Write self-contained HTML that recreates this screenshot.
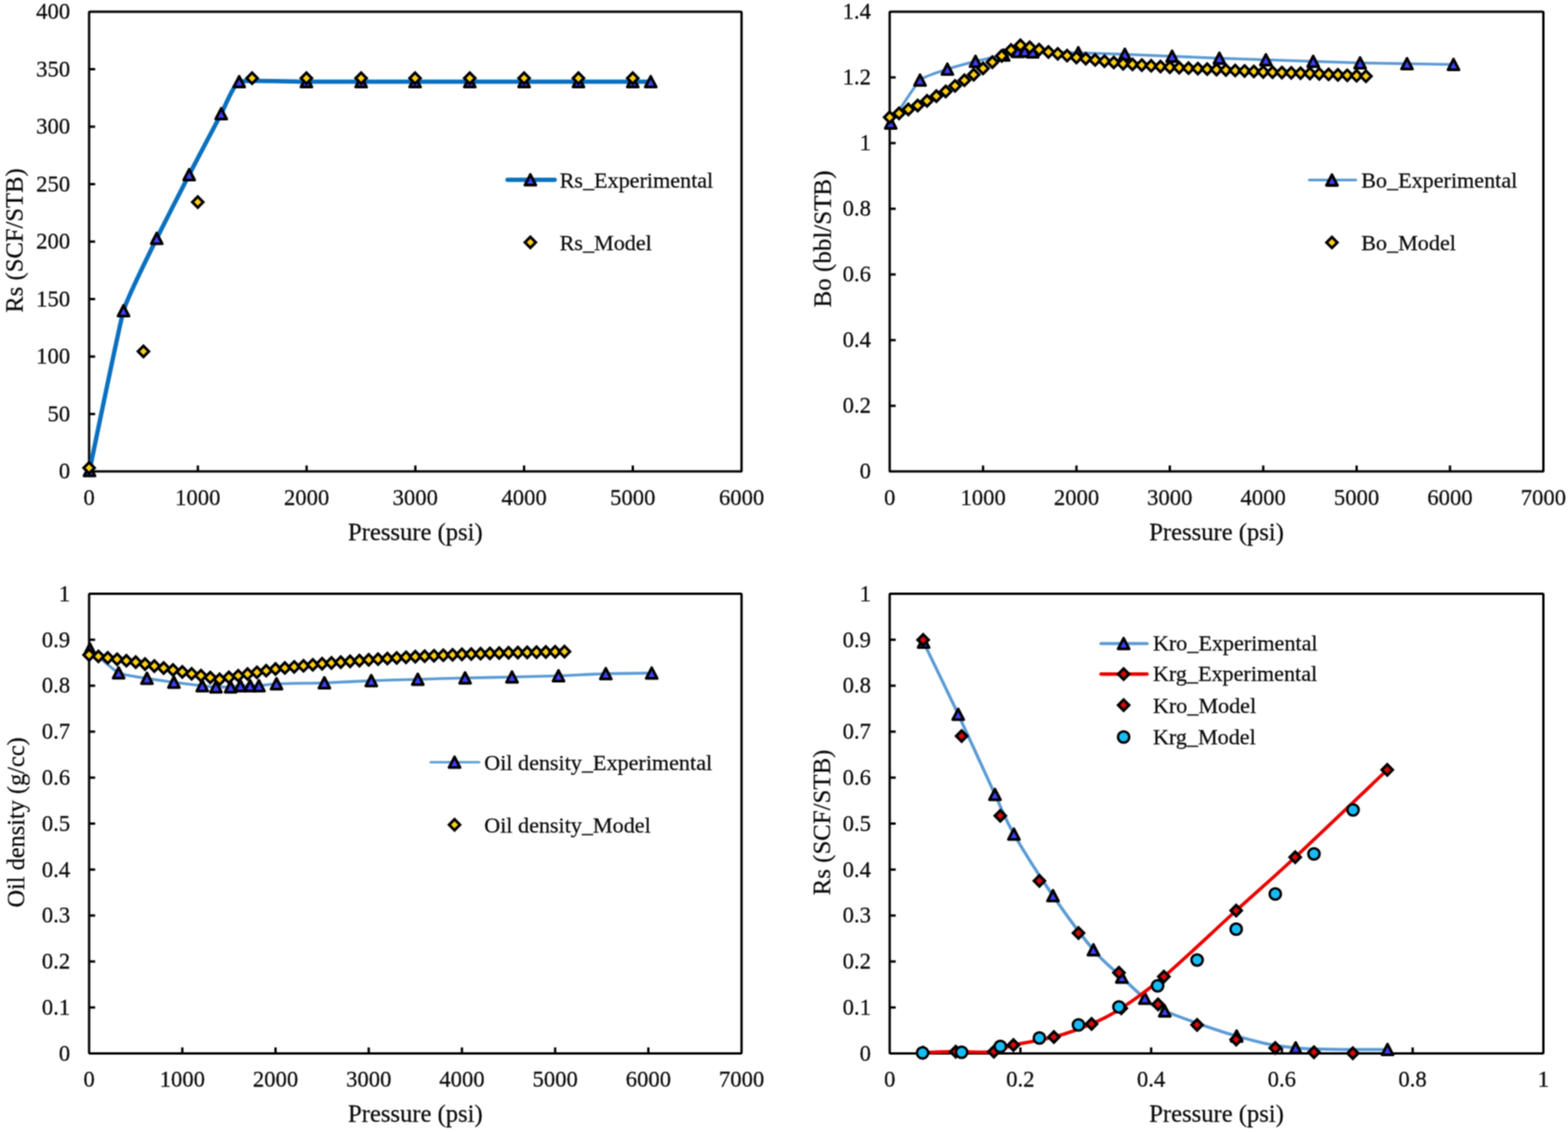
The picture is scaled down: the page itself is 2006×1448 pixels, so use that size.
<!DOCTYPE html>
<html lang="en">
<head>
<meta charset="utf-8">
<title>PVT and relative permeability: experimental vs model</title>
<style>
  html, body { margin: 0; padding: 0; background: #ffffff; }
  body { width: 2006px; height: 1448px; overflow: hidden; }
  svg { display: block; }
  .figure { width: 2006px; height: 1448px; }
  svg text { font-family: "Liberation Serif", "DejaVu Serif", serif; fill: #0a0a0a; stroke: #0a0a0a; stroke-width: 0.3px; }
</style>
</head>
<body>
<div class="figure">
<svg width="2006" height="1448" viewBox="0 0 2006 1448">
<defs>
<filter id="soft" x="0" y="0" width="2006" height="1448" filterUnits="userSpaceOnUse" color-interpolation-filters="sRGB">
<feConvolveMatrix order="3" kernelMatrix="1 2 1 2 4 2 1 2 1" divisor="16" edgeMode="duplicate" preserveAlpha="true"/>
</filter>
</defs>
<g filter="url(#soft)">
<rect x="0" y="0" width="2006" height="1448" fill="#ffffff"/>
<g id="chart-rs">
<rect x="114" y="15" width="834.7" height="588.1" fill="#fff" stroke="#000" stroke-width="3" stroke-linejoin="round" rx="1.2"/>
<text x="114" y="646" font-size="29" text-anchor="middle">0</text>
<line x1="253.12" y1="603.1" x2="253.12" y2="595.4" stroke="#000" stroke-width="3"/>
<text x="253.12" y="646" font-size="29" text-anchor="middle">1000</text>
<line x1="392.23" y1="603.1" x2="392.23" y2="595.4" stroke="#000" stroke-width="3"/>
<text x="392.23" y="646" font-size="29" text-anchor="middle">2000</text>
<line x1="531.35" y1="603.1" x2="531.35" y2="595.4" stroke="#000" stroke-width="3"/>
<text x="531.35" y="646" font-size="29" text-anchor="middle">3000</text>
<line x1="670.47" y1="603.1" x2="670.47" y2="595.4" stroke="#000" stroke-width="3"/>
<text x="670.47" y="646" font-size="29" text-anchor="middle">4000</text>
<line x1="809.58" y1="603.1" x2="809.58" y2="595.4" stroke="#000" stroke-width="3"/>
<text x="809.58" y="646" font-size="29" text-anchor="middle">5000</text>
<text x="948.7" y="646" font-size="29" text-anchor="middle">6000</text>
<text x="89.7" y="612.3" font-size="29" text-anchor="end">0</text>
<line x1="114" y1="529.59" x2="121.7" y2="529.59" stroke="#000" stroke-width="3"/>
<text x="89.7" y="538.79" font-size="29" text-anchor="end">50</text>
<line x1="114" y1="456.08" x2="121.7" y2="456.08" stroke="#000" stroke-width="3"/>
<text x="89.7" y="465.28" font-size="29" text-anchor="end">100</text>
<line x1="114" y1="382.56" x2="121.7" y2="382.56" stroke="#000" stroke-width="3"/>
<text x="89.7" y="391.76" font-size="29" text-anchor="end">150</text>
<line x1="114" y1="309.05" x2="121.7" y2="309.05" stroke="#000" stroke-width="3"/>
<text x="89.7" y="318.25" font-size="29" text-anchor="end">200</text>
<line x1="114" y1="235.54" x2="121.7" y2="235.54" stroke="#000" stroke-width="3"/>
<text x="89.7" y="244.74" font-size="29" text-anchor="end">250</text>
<line x1="114" y1="162.02" x2="121.7" y2="162.02" stroke="#000" stroke-width="3"/>
<text x="89.7" y="171.22" font-size="29" text-anchor="end">300</text>
<line x1="114" y1="88.51" x2="121.7" y2="88.51" stroke="#000" stroke-width="3"/>
<text x="89.7" y="97.71" font-size="29" text-anchor="end">350</text>
<text x="89.7" y="24.2" font-size="29" text-anchor="end">400</text>
<text x="531.35" y="691" font-size="31.5" text-anchor="middle">Pressure (psi)</text>
<text x="29.5" y="307.55" font-size="31.5" text-anchor="middle" transform="rotate(-90 29.5 307.55)">Rs (SCF/STB)</text>
<path d="M114.5,602 C117.11,589.73 152.84,415.32 158,397.5 C163.16,379.68 195.46,315.44 200.5,305 C205.54,294.56 237.05,233.07 242,223.5 C246.95,213.93 279.16,152.64 283,145.5 C286.84,138.36 299.46,106.96 306,104.5 C312.54,102.04 382.64,104.5 392,104.5 C401.36,104.5 453.66,104.5 462,104.5 C470.34,104.5 522.66,104.5 531,104.5 C539.34,104.5 592.63,104.5 601,104.5 C609.37,104.5 662.16,104.5 670.5,104.5 C678.84,104.5 731.66,104.5 740,104.5 C748.34,104.5 803.95,104.5 809.5,104.5 C815.05,104.5 831.12,104.5 832.5,104.5" fill="none" stroke="#0a70c0" stroke-width="5.6" stroke-linecap="round" stroke-linejoin="round"/>
<polygon points="114.5,595.2 121.5,608.8 107.5,608.8" fill="#4040ff" stroke="#000" stroke-width="3.6" stroke-linejoin="round"/>
<polygon points="158,390.7 165,404.3 151,404.3" fill="#4040ff" stroke="#000" stroke-width="3.6" stroke-linejoin="round"/>
<polygon points="200.5,298.2 207.5,311.8 193.5,311.8" fill="#4040ff" stroke="#000" stroke-width="3.6" stroke-linejoin="round"/>
<polygon points="242,216.7 249,230.3 235,230.3" fill="#4040ff" stroke="#000" stroke-width="3.6" stroke-linejoin="round"/>
<polygon points="283,138.7 290,152.3 276,152.3" fill="#4040ff" stroke="#000" stroke-width="3.6" stroke-linejoin="round"/>
<polygon points="306,97.7 313,111.3 299,111.3" fill="#4040ff" stroke="#000" stroke-width="3.6" stroke-linejoin="round"/>
<polygon points="392,97.7 399,111.3 385,111.3" fill="#4040ff" stroke="#000" stroke-width="3.6" stroke-linejoin="round"/>
<polygon points="462,97.7 469,111.3 455,111.3" fill="#4040ff" stroke="#000" stroke-width="3.6" stroke-linejoin="round"/>
<polygon points="531,97.7 538,111.3 524,111.3" fill="#4040ff" stroke="#000" stroke-width="3.6" stroke-linejoin="round"/>
<polygon points="601,97.7 608,111.3 594,111.3" fill="#4040ff" stroke="#000" stroke-width="3.6" stroke-linejoin="round"/>
<polygon points="670.5,97.7 677.5,111.3 663.5,111.3" fill="#4040ff" stroke="#000" stroke-width="3.6" stroke-linejoin="round"/>
<polygon points="740,97.7 747,111.3 733,111.3" fill="#4040ff" stroke="#000" stroke-width="3.6" stroke-linejoin="round"/>
<polygon points="809.5,97.7 816.5,111.3 802.5,111.3" fill="#4040ff" stroke="#000" stroke-width="3.6" stroke-linejoin="round"/>
<polygon points="832.5,97.7 839.5,111.3 825.5,111.3" fill="#4040ff" stroke="#000" stroke-width="3.6" stroke-linejoin="round"/>
<polygon points="114,591.55 120.95,598.5 114,605.45 107.05,598.5" fill="#ffd010" stroke="#000" stroke-width="3.5" stroke-linejoin="miter"/>
<polygon points="183.5,442.55 190.45,449.5 183.5,456.45 176.55,449.5" fill="#ffd010" stroke="#000" stroke-width="3.5" stroke-linejoin="miter"/>
<polygon points="253,251.55 259.95,258.5 253,265.45 246.05,258.5" fill="#ffd010" stroke="#000" stroke-width="3.5" stroke-linejoin="miter"/>
<polygon points="322.5,93.05 329.45,100 322.5,106.95 315.55,100" fill="#ffd010" stroke="#000" stroke-width="3.5" stroke-linejoin="miter"/>
<polygon points="392,93.05 398.95,100 392,106.95 385.05,100" fill="#ffd010" stroke="#000" stroke-width="3.5" stroke-linejoin="miter"/>
<polygon points="462,93.05 468.95,100 462,106.95 455.05,100" fill="#ffd010" stroke="#000" stroke-width="3.5" stroke-linejoin="miter"/>
<polygon points="531,93.05 537.95,100 531,106.95 524.05,100" fill="#ffd010" stroke="#000" stroke-width="3.5" stroke-linejoin="miter"/>
<polygon points="601,93.05 607.95,100 601,106.95 594.05,100" fill="#ffd010" stroke="#000" stroke-width="3.5" stroke-linejoin="miter"/>
<polygon points="670.5,93.05 677.45,100 670.5,106.95 663.55,100" fill="#ffd010" stroke="#000" stroke-width="3.5" stroke-linejoin="miter"/>
<polygon points="740,93.05 746.95,100 740,106.95 733.05,100" fill="#ffd010" stroke="#000" stroke-width="3.5" stroke-linejoin="miter"/>
<polygon points="809.5,93.05 816.45,100 809.5,106.95 802.55,100" fill="#ffd010" stroke="#000" stroke-width="3.5" stroke-linejoin="miter"/>
<line x1="649.3" y1="230" x2="709.6" y2="230" stroke="#0a70c0" stroke-width="5.6" stroke-linecap="round"/>
<polygon points="678.5,223.2 685.5,236.8 671.5,236.8" fill="#4040ff" stroke="#000" stroke-width="3.6" stroke-linejoin="round"/>
<text x="716" y="239.5" font-size="28.3" text-anchor="start">Rs_Experimental</text>
<polygon points="678.5,303.05 685.45,310 678.5,316.95 671.55,310" fill="#ffd010" stroke="#000" stroke-width="3.5" stroke-linejoin="miter"/>
<text x="716" y="319.5" font-size="28.3" text-anchor="start">Rs_Model</text>
</g>
<g id="chart-bo">
<rect x="1138.2" y="15" width="836.3" height="588.1" fill="#fff" stroke="#000" stroke-width="3" stroke-linejoin="round" rx="1.2"/>
<text x="1138.2" y="646" font-size="29" text-anchor="middle">0</text>
<line x1="1257.67" y1="603.1" x2="1257.67" y2="595.4" stroke="#000" stroke-width="3"/>
<text x="1257.67" y="646" font-size="29" text-anchor="middle">1000</text>
<line x1="1377.14" y1="603.1" x2="1377.14" y2="595.4" stroke="#000" stroke-width="3"/>
<text x="1377.14" y="646" font-size="29" text-anchor="middle">2000</text>
<line x1="1496.61" y1="603.1" x2="1496.61" y2="595.4" stroke="#000" stroke-width="3"/>
<text x="1496.61" y="646" font-size="29" text-anchor="middle">3000</text>
<line x1="1616.09" y1="603.1" x2="1616.09" y2="595.4" stroke="#000" stroke-width="3"/>
<text x="1616.09" y="646" font-size="29" text-anchor="middle">4000</text>
<line x1="1735.56" y1="603.1" x2="1735.56" y2="595.4" stroke="#000" stroke-width="3"/>
<text x="1735.56" y="646" font-size="29" text-anchor="middle">5000</text>
<line x1="1855.03" y1="603.1" x2="1855.03" y2="595.4" stroke="#000" stroke-width="3"/>
<text x="1855.03" y="646" font-size="29" text-anchor="middle">6000</text>
<text x="1974.5" y="646" font-size="29" text-anchor="middle">7000</text>
<text x="1114.2" y="612.3" font-size="29" text-anchor="end">0</text>
<line x1="1138.2" y1="519.09" x2="1145.9" y2="519.09" stroke="#000" stroke-width="3"/>
<text x="1114.2" y="528.29" font-size="29" text-anchor="end">0.2</text>
<line x1="1138.2" y1="435.07" x2="1145.9" y2="435.07" stroke="#000" stroke-width="3"/>
<text x="1114.2" y="444.27" font-size="29" text-anchor="end">0.4</text>
<line x1="1138.2" y1="351.06" x2="1145.9" y2="351.06" stroke="#000" stroke-width="3"/>
<text x="1114.2" y="360.26" font-size="29" text-anchor="end">0.6</text>
<line x1="1138.2" y1="267.04" x2="1145.9" y2="267.04" stroke="#000" stroke-width="3"/>
<text x="1114.2" y="276.24" font-size="29" text-anchor="end">0.8</text>
<line x1="1138.2" y1="183.03" x2="1145.9" y2="183.03" stroke="#000" stroke-width="3"/>
<text x="1114.2" y="192.23" font-size="29" text-anchor="end">1</text>
<line x1="1138.2" y1="99.01" x2="1145.9" y2="99.01" stroke="#000" stroke-width="3"/>
<text x="1114.2" y="108.21" font-size="29" text-anchor="end">1.2</text>
<text x="1114.2" y="24.2" font-size="29" text-anchor="end">1.4</text>
<text x="1556.35" y="691" font-size="31.5" text-anchor="middle">Pressure (psi)</text>
<text x="1062.6" y="305.75" font-size="32" text-anchor="middle" transform="rotate(-90 1062.6 305.75)">Bo (bbl/STB)</text>
<path d="M1139.5,157.5 C1142.25,153.47 1171.68,107.56 1177,102.5 C1182.32,97.44 1206.79,90.26 1212,88.5 C1217.21,86.74 1242.72,79.82 1248,78.5 C1253.28,77.18 1280.04,71.42 1284,70.5 C1287.96,69.58 1300.02,66.37 1302,66 C1303.98,65.63 1309.61,65.46 1311,65.5 C1312.39,65.54 1315.98,66.35 1321,66.5 C1326.02,66.65 1370.85,67.28 1379.5,67.5 C1388.15,67.72 1430.2,69.17 1439,69.5 C1447.8,69.83 1490.63,71.63 1499.5,72 C1508.37,72.37 1551.2,74.17 1560,74.5 C1568.8,74.83 1610.7,76.21 1619.5,76.5 C1628.3,76.79 1671.16,78.21 1680,78.5 C1688.84,78.79 1731.2,80.28 1740,80.5 C1748.8,80.72 1791.24,81.35 1800,81.5 C1808.76,81.65 1855.14,82.43 1859.5,82.5" fill="none" stroke="#5b9bd5" stroke-width="3.6" stroke-linecap="round" stroke-linejoin="round"/>
<polygon points="1139.5,150.7 1146.5,164.3 1132.5,164.3" fill="#4040ff" stroke="#000" stroke-width="3.6" stroke-linejoin="round"/>
<polygon points="1177,95.7 1184,109.3 1170,109.3" fill="#4040ff" stroke="#000" stroke-width="3.6" stroke-linejoin="round"/>
<polygon points="1212,81.7 1219,95.3 1205,95.3" fill="#4040ff" stroke="#000" stroke-width="3.6" stroke-linejoin="round"/>
<polygon points="1248,71.7 1255,85.3 1241,85.3" fill="#4040ff" stroke="#000" stroke-width="3.6" stroke-linejoin="round"/>
<polygon points="1284,63.7 1291,77.3 1277,77.3" fill="#4040ff" stroke="#000" stroke-width="3.6" stroke-linejoin="round"/>
<polygon points="1302,59.2 1309,72.8 1295,72.8" fill="#4040ff" stroke="#000" stroke-width="3.6" stroke-linejoin="round"/>
<polygon points="1311,58.7 1318,72.3 1304,72.3" fill="#4040ff" stroke="#000" stroke-width="3.6" stroke-linejoin="round"/>
<polygon points="1321,59.7 1328,73.3 1314,73.3" fill="#4040ff" stroke="#000" stroke-width="3.6" stroke-linejoin="round"/>
<polygon points="1379.5,60.7 1386.5,74.3 1372.5,74.3" fill="#4040ff" stroke="#000" stroke-width="3.6" stroke-linejoin="round"/>
<polygon points="1439,62.7 1446,76.3 1432,76.3" fill="#4040ff" stroke="#000" stroke-width="3.6" stroke-linejoin="round"/>
<polygon points="1499.5,65.2 1506.5,78.8 1492.5,78.8" fill="#4040ff" stroke="#000" stroke-width="3.6" stroke-linejoin="round"/>
<polygon points="1560,67.7 1567,81.3 1553,81.3" fill="#4040ff" stroke="#000" stroke-width="3.6" stroke-linejoin="round"/>
<polygon points="1619.5,69.7 1626.5,83.3 1612.5,83.3" fill="#4040ff" stroke="#000" stroke-width="3.6" stroke-linejoin="round"/>
<polygon points="1680,71.7 1687,85.3 1673,85.3" fill="#4040ff" stroke="#000" stroke-width="3.6" stroke-linejoin="round"/>
<polygon points="1740,73.7 1747,87.3 1733,87.3" fill="#4040ff" stroke="#000" stroke-width="3.6" stroke-linejoin="round"/>
<polygon points="1800,74.7 1807,88.3 1793,88.3" fill="#4040ff" stroke="#000" stroke-width="3.6" stroke-linejoin="round"/>
<polygon points="1859.5,75.7 1866.5,89.3 1852.5,89.3" fill="#4040ff" stroke="#000" stroke-width="3.6" stroke-linejoin="round"/>
<polygon points="1138.2,143.05 1145.15,150 1138.2,156.95 1131.25,150" fill="#ffd010" stroke="#000" stroke-width="3.5" stroke-linejoin="miter"/>
<polygon points="1150.15,138.05 1157.1,145 1150.15,151.95 1143.2,145" fill="#ffd010" stroke="#000" stroke-width="3.5" stroke-linejoin="miter"/>
<polygon points="1162.09,133.05 1169.04,140 1162.09,146.95 1155.14,140" fill="#ffd010" stroke="#000" stroke-width="3.5" stroke-linejoin="miter"/>
<polygon points="1174.04,128.05 1180.99,135 1174.04,141.95 1167.09,135" fill="#ffd010" stroke="#000" stroke-width="3.5" stroke-linejoin="miter"/>
<polygon points="1185.99,122.05 1192.94,129 1185.99,135.95 1179.04,129" fill="#ffd010" stroke="#000" stroke-width="3.5" stroke-linejoin="miter"/>
<polygon points="1197.94,116.05 1204.89,123 1197.94,129.95 1190.99,123" fill="#ffd010" stroke="#000" stroke-width="3.5" stroke-linejoin="miter"/>
<polygon points="1209.88,110.05 1216.83,117 1209.88,123.95 1202.93,117" fill="#ffd010" stroke="#000" stroke-width="3.5" stroke-linejoin="miter"/>
<polygon points="1221.83,102.88 1228.78,109.83 1221.83,116.78 1214.88,109.83" fill="#ffd010" stroke="#000" stroke-width="3.5" stroke-linejoin="miter"/>
<polygon points="1233.78,95.72 1240.73,102.67 1233.78,109.62 1226.83,102.67" fill="#ffd010" stroke="#000" stroke-width="3.5" stroke-linejoin="miter"/>
<polygon points="1245.72,88.55 1252.67,95.5 1245.72,102.45 1238.77,95.5" fill="#ffd010" stroke="#000" stroke-width="3.5" stroke-linejoin="miter"/>
<polygon points="1257.67,80.55 1264.62,87.5 1257.67,94.45 1250.72,87.5" fill="#ffd010" stroke="#000" stroke-width="3.5" stroke-linejoin="miter"/>
<polygon points="1269.62,72.55 1276.57,79.5 1269.62,86.45 1262.67,79.5" fill="#ffd010" stroke="#000" stroke-width="3.5" stroke-linejoin="miter"/>
<polygon points="1281.57,64.55 1288.52,71.5 1281.57,78.45 1274.62,71.5" fill="#ffd010" stroke="#000" stroke-width="3.5" stroke-linejoin="miter"/>
<polygon points="1293.51,57.05 1300.46,64 1293.51,70.95 1286.56,64" fill="#ffd010" stroke="#000" stroke-width="3.5" stroke-linejoin="miter"/>
<polygon points="1305.46,51.05 1312.41,58 1305.46,64.95 1298.51,58" fill="#ffd010" stroke="#000" stroke-width="3.5" stroke-linejoin="miter"/>
<polygon points="1317.41,53.55 1324.36,60.5 1317.41,67.45 1310.46,60.5" fill="#ffd010" stroke="#000" stroke-width="3.5" stroke-linejoin="miter"/>
<polygon points="1329.35,56.55 1336.3,63.5 1329.35,70.45 1322.4,63.5" fill="#ffd010" stroke="#000" stroke-width="3.5" stroke-linejoin="miter"/>
<polygon points="1341.3,59.55 1348.25,66.5 1341.3,73.45 1334.35,66.5" fill="#ffd010" stroke="#000" stroke-width="3.5" stroke-linejoin="miter"/>
<polygon points="1353.25,61.88 1360.2,68.83 1353.25,75.78 1346.3,68.83" fill="#ffd010" stroke="#000" stroke-width="3.5" stroke-linejoin="miter"/>
<polygon points="1365.2,64.22 1372.15,71.17 1365.2,78.12 1358.25,71.17" fill="#ffd010" stroke="#000" stroke-width="3.5" stroke-linejoin="miter"/>
<polygon points="1377.14,66.55 1384.09,73.5 1377.14,80.45 1370.19,73.5" fill="#ffd010" stroke="#000" stroke-width="3.5" stroke-linejoin="miter"/>
<polygon points="1389.09,68.15 1396.04,75.1 1389.09,82.05 1382.14,75.1" fill="#ffd010" stroke="#000" stroke-width="3.5" stroke-linejoin="miter"/>
<polygon points="1401.04,69.75 1407.99,76.7 1401.04,83.65 1394.09,76.7" fill="#ffd010" stroke="#000" stroke-width="3.5" stroke-linejoin="miter"/>
<polygon points="1412.98,71.35 1419.93,78.3 1412.98,85.25 1406.03,78.3" fill="#ffd010" stroke="#000" stroke-width="3.5" stroke-linejoin="miter"/>
<polygon points="1424.93,72.95 1431.88,79.9 1424.93,86.85 1417.98,79.9" fill="#ffd010" stroke="#000" stroke-width="3.5" stroke-linejoin="miter"/>
<polygon points="1436.88,74.55 1443.83,81.5 1436.88,88.45 1429.93,81.5" fill="#ffd010" stroke="#000" stroke-width="3.5" stroke-linejoin="miter"/>
<polygon points="1448.83,75.45 1455.78,82.4 1448.83,89.35 1441.88,82.4" fill="#ffd010" stroke="#000" stroke-width="3.5" stroke-linejoin="miter"/>
<polygon points="1460.77,76.35 1467.72,83.3 1460.77,90.25 1453.82,83.3" fill="#ffd010" stroke="#000" stroke-width="3.5" stroke-linejoin="miter"/>
<polygon points="1472.72,77.25 1479.67,84.2 1472.72,91.15 1465.77,84.2" fill="#ffd010" stroke="#000" stroke-width="3.5" stroke-linejoin="miter"/>
<polygon points="1484.67,78.15 1491.62,85.1 1484.67,92.05 1477.72,85.1" fill="#ffd010" stroke="#000" stroke-width="3.5" stroke-linejoin="miter"/>
<polygon points="1496.61,79.05 1503.56,86 1496.61,92.95 1489.66,86" fill="#ffd010" stroke="#000" stroke-width="3.5" stroke-linejoin="miter"/>
<polygon points="1508.56,79.65 1515.51,86.6 1508.56,93.55 1501.61,86.6" fill="#ffd010" stroke="#000" stroke-width="3.5" stroke-linejoin="miter"/>
<polygon points="1520.51,80.25 1527.46,87.2 1520.51,94.15 1513.56,87.2" fill="#ffd010" stroke="#000" stroke-width="3.5" stroke-linejoin="miter"/>
<polygon points="1532.46,80.85 1539.41,87.8 1532.46,94.75 1525.51,87.8" fill="#ffd010" stroke="#000" stroke-width="3.5" stroke-linejoin="miter"/>
<polygon points="1544.4,81.45 1551.35,88.4 1544.4,95.35 1537.45,88.4" fill="#ffd010" stroke="#000" stroke-width="3.5" stroke-linejoin="miter"/>
<polygon points="1556.35,82.05 1563.3,89 1556.35,95.95 1549.4,89" fill="#ffd010" stroke="#000" stroke-width="3.5" stroke-linejoin="miter"/>
<polygon points="1568.3,82.65 1575.25,89.6 1568.3,96.55 1561.35,89.6" fill="#ffd010" stroke="#000" stroke-width="3.5" stroke-linejoin="miter"/>
<polygon points="1580.24,83.25 1587.19,90.2 1580.24,97.15 1573.29,90.2" fill="#ffd010" stroke="#000" stroke-width="3.5" stroke-linejoin="miter"/>
<polygon points="1592.19,83.85 1599.14,90.8 1592.19,97.75 1585.24,90.8" fill="#ffd010" stroke="#000" stroke-width="3.5" stroke-linejoin="miter"/>
<polygon points="1604.14,84.45 1611.09,91.4 1604.14,98.35 1597.19,91.4" fill="#ffd010" stroke="#000" stroke-width="3.5" stroke-linejoin="miter"/>
<polygon points="1616.09,85.05 1623.04,92 1616.09,98.95 1609.14,92" fill="#ffd010" stroke="#000" stroke-width="3.5" stroke-linejoin="miter"/>
<polygon points="1628.03,85.45 1634.98,92.4 1628.03,99.35 1621.08,92.4" fill="#ffd010" stroke="#000" stroke-width="3.5" stroke-linejoin="miter"/>
<polygon points="1639.98,85.85 1646.93,92.8 1639.98,99.75 1633.03,92.8" fill="#ffd010" stroke="#000" stroke-width="3.5" stroke-linejoin="miter"/>
<polygon points="1651.93,86.25 1658.88,93.2 1651.93,100.15 1644.98,93.2" fill="#ffd010" stroke="#000" stroke-width="3.5" stroke-linejoin="miter"/>
<polygon points="1663.87,86.65 1670.82,93.6 1663.87,100.55 1656.92,93.6" fill="#ffd010" stroke="#000" stroke-width="3.5" stroke-linejoin="miter"/>
<polygon points="1675.82,87.05 1682.77,94 1675.82,100.95 1668.87,94" fill="#ffd010" stroke="#000" stroke-width="3.5" stroke-linejoin="miter"/>
<polygon points="1687.77,87.63 1694.72,94.58 1687.77,101.53 1680.82,94.58" fill="#ffd010" stroke="#000" stroke-width="3.5" stroke-linejoin="miter"/>
<polygon points="1699.72,88.22 1706.67,95.17 1699.72,102.12 1692.77,95.17" fill="#ffd010" stroke="#000" stroke-width="3.5" stroke-linejoin="miter"/>
<polygon points="1711.66,88.8 1718.61,95.75 1711.66,102.7 1704.71,95.75" fill="#ffd010" stroke="#000" stroke-width="3.5" stroke-linejoin="miter"/>
<polygon points="1723.61,89.38 1730.56,96.33 1723.61,103.28 1716.66,96.33" fill="#ffd010" stroke="#000" stroke-width="3.5" stroke-linejoin="miter"/>
<polygon points="1735.56,89.97 1742.51,96.92 1735.56,103.87 1728.61,96.92" fill="#ffd010" stroke="#000" stroke-width="3.5" stroke-linejoin="miter"/>
<polygon points="1747.5,90.55 1754.45,97.5 1747.5,104.45 1740.55,97.5" fill="#ffd010" stroke="#000" stroke-width="3.5" stroke-linejoin="miter"/>
<line x1="1675" y1="230.3" x2="1734.5" y2="230.3" stroke="#5b9bd5" stroke-width="3.6" stroke-linecap="round"/>
<polygon points="1704,223.5 1711,237.1 1697,237.1" fill="#4040ff" stroke="#000" stroke-width="3.6" stroke-linejoin="round"/>
<text x="1741.5" y="239.5" font-size="28.3" text-anchor="start">Bo_Experimental</text>
<polygon points="1704,303.25 1710.95,310.2 1704,317.15 1697.05,310.2" fill="#ffd010" stroke="#000" stroke-width="3.5" stroke-linejoin="miter"/>
<text x="1741.5" y="319.5" font-size="28.3" text-anchor="start">Bo_Model</text>
</g>
<g id="chart-density">
<rect x="114" y="759.5" width="834.7" height="588" fill="#fff" stroke="#000" stroke-width="3" stroke-linejoin="round" rx="1.2"/>
<text x="114" y="1390" font-size="29" text-anchor="middle">0</text>
<line x1="233.24" y1="1347.5" x2="233.24" y2="1339.8" stroke="#000" stroke-width="3"/>
<text x="233.24" y="1390" font-size="29" text-anchor="middle">1000</text>
<line x1="352.49" y1="1347.5" x2="352.49" y2="1339.8" stroke="#000" stroke-width="3"/>
<text x="352.49" y="1390" font-size="29" text-anchor="middle">2000</text>
<line x1="471.73" y1="1347.5" x2="471.73" y2="1339.8" stroke="#000" stroke-width="3"/>
<text x="471.73" y="1390" font-size="29" text-anchor="middle">3000</text>
<line x1="590.97" y1="1347.5" x2="590.97" y2="1339.8" stroke="#000" stroke-width="3"/>
<text x="590.97" y="1390" font-size="29" text-anchor="middle">4000</text>
<line x1="710.21" y1="1347.5" x2="710.21" y2="1339.8" stroke="#000" stroke-width="3"/>
<text x="710.21" y="1390" font-size="29" text-anchor="middle">5000</text>
<line x1="829.46" y1="1347.5" x2="829.46" y2="1339.8" stroke="#000" stroke-width="3"/>
<text x="829.46" y="1390" font-size="29" text-anchor="middle">6000</text>
<text x="948.7" y="1390" font-size="29" text-anchor="middle">7000</text>
<text x="89.7" y="1356.7" font-size="29" text-anchor="end">0</text>
<line x1="114" y1="1288.7" x2="121.7" y2="1288.7" stroke="#000" stroke-width="3"/>
<text x="89.7" y="1297.9" font-size="29" text-anchor="end">0.1</text>
<line x1="114" y1="1229.9" x2="121.7" y2="1229.9" stroke="#000" stroke-width="3"/>
<text x="89.7" y="1239.1" font-size="29" text-anchor="end">0.2</text>
<line x1="114" y1="1171.1" x2="121.7" y2="1171.1" stroke="#000" stroke-width="3"/>
<text x="89.7" y="1180.3" font-size="29" text-anchor="end">0.3</text>
<line x1="114" y1="1112.3" x2="121.7" y2="1112.3" stroke="#000" stroke-width="3"/>
<text x="89.7" y="1121.5" font-size="29" text-anchor="end">0.4</text>
<line x1="114" y1="1053.5" x2="121.7" y2="1053.5" stroke="#000" stroke-width="3"/>
<text x="89.7" y="1062.7" font-size="29" text-anchor="end">0.5</text>
<line x1="114" y1="994.7" x2="121.7" y2="994.7" stroke="#000" stroke-width="3"/>
<text x="89.7" y="1003.9" font-size="29" text-anchor="end">0.6</text>
<line x1="114" y1="935.9" x2="121.7" y2="935.9" stroke="#000" stroke-width="3"/>
<text x="89.7" y="945.1" font-size="29" text-anchor="end">0.7</text>
<line x1="114" y1="877.1" x2="121.7" y2="877.1" stroke="#000" stroke-width="3"/>
<text x="89.7" y="886.3" font-size="29" text-anchor="end">0.8</text>
<line x1="114" y1="818.3" x2="121.7" y2="818.3" stroke="#000" stroke-width="3"/>
<text x="89.7" y="827.5" font-size="29" text-anchor="end">0.9</text>
<text x="89.7" y="768.7" font-size="29" text-anchor="end">1</text>
<text x="531.35" y="1435" font-size="31.5" text-anchor="middle">Pressure (psi)</text>
<text x="31.3" y="1052" font-size="31.1" text-anchor="middle" transform="rotate(-90 31.3 1052)">Oil density (g/cc)</text>
<path d="M115,830.2 C118.67,833.25 144.45,856.95 151.75,860.7 C159.05,864.45 180.93,866.5 188,867.7 C195.07,868.9 215.43,871.75 222.5,872.7 C229.57,873.65 253.38,876.6 258.75,877.2 C264.12,877.8 272.62,878.55 276.25,878.7 C279.88,878.85 291.88,878.85 295,878.7 C298.12,878.55 305,877.35 307.5,877.2 C310,877.05 317.62,877.2 320,877.2 C322.38,877.2 327.88,877.45 331.25,877.2 C334.62,876.95 345.38,875.08 353.75,874.7 C362.12,874.33 402.88,873.85 415,873.45 C427.12,873.05 463.05,871.15 475,870.7 C486.95,870.25 522.5,869.3 534.5,868.95 C546.5,868.6 582.95,867.5 595,867.2 C607.05,866.91 643.05,866.27 655,866 C666.95,865.73 702.5,864.92 714.5,864.5 C726.5,864.08 763.08,862.1 775,861.75 C786.92,861.4 827.88,861.08 833.75,861" fill="none" stroke="#5b9bd5" stroke-width="3.6" stroke-linecap="round" stroke-linejoin="round"/>
<polygon points="115,823.4 122,837 108,837" fill="#4040ff" stroke="#000" stroke-width="3.6" stroke-linejoin="round"/>
<polygon points="151.75,853.9 158.75,867.5 144.75,867.5" fill="#4040ff" stroke="#000" stroke-width="3.6" stroke-linejoin="round"/>
<polygon points="188,860.9 195,874.5 181,874.5" fill="#4040ff" stroke="#000" stroke-width="3.6" stroke-linejoin="round"/>
<polygon points="222.5,865.9 229.5,879.5 215.5,879.5" fill="#4040ff" stroke="#000" stroke-width="3.6" stroke-linejoin="round"/>
<polygon points="258.75,870.4 265.75,884 251.75,884" fill="#4040ff" stroke="#000" stroke-width="3.6" stroke-linejoin="round"/>
<polygon points="276.25,871.9 283.25,885.5 269.25,885.5" fill="#4040ff" stroke="#000" stroke-width="3.6" stroke-linejoin="round"/>
<polygon points="295,871.9 302,885.5 288,885.5" fill="#4040ff" stroke="#000" stroke-width="3.6" stroke-linejoin="round"/>
<polygon points="307.5,870.4 314.5,884 300.5,884" fill="#4040ff" stroke="#000" stroke-width="3.6" stroke-linejoin="round"/>
<polygon points="320,870.4 327,884 313,884" fill="#4040ff" stroke="#000" stroke-width="3.6" stroke-linejoin="round"/>
<polygon points="331.25,870.4 338.25,884 324.25,884" fill="#4040ff" stroke="#000" stroke-width="3.6" stroke-linejoin="round"/>
<polygon points="353.75,867.9 360.75,881.5 346.75,881.5" fill="#4040ff" stroke="#000" stroke-width="3.6" stroke-linejoin="round"/>
<polygon points="415,866.65 422,880.25 408,880.25" fill="#4040ff" stroke="#000" stroke-width="3.6" stroke-linejoin="round"/>
<polygon points="475,863.9 482,877.5 468,877.5" fill="#4040ff" stroke="#000" stroke-width="3.6" stroke-linejoin="round"/>
<polygon points="534.5,862.15 541.5,875.75 527.5,875.75" fill="#4040ff" stroke="#000" stroke-width="3.6" stroke-linejoin="round"/>
<polygon points="595,860.4 602,874 588,874" fill="#4040ff" stroke="#000" stroke-width="3.6" stroke-linejoin="round"/>
<polygon points="655,859.2 662,872.8 648,872.8" fill="#4040ff" stroke="#000" stroke-width="3.6" stroke-linejoin="round"/>
<polygon points="714.5,857.7 721.5,871.3 707.5,871.3" fill="#4040ff" stroke="#000" stroke-width="3.6" stroke-linejoin="round"/>
<polygon points="775,854.95 782,868.55 768,868.55" fill="#4040ff" stroke="#000" stroke-width="3.6" stroke-linejoin="round"/>
<polygon points="833.75,854.2 840.75,867.8 826.75,867.8" fill="#4040ff" stroke="#000" stroke-width="3.6" stroke-linejoin="round"/>
<polygon points="114,830.8 120.95,837.75 114,844.7 107.05,837.75" fill="#ffd010" stroke="#000" stroke-width="3.5" stroke-linejoin="miter"/>
<polygon points="125.92,832.65 132.87,839.6 125.92,846.55 118.97,839.6" fill="#ffd010" stroke="#000" stroke-width="3.5" stroke-linejoin="miter"/>
<polygon points="137.85,834.5 144.8,841.45 137.85,848.4 130.9,841.45" fill="#ffd010" stroke="#000" stroke-width="3.5" stroke-linejoin="miter"/>
<polygon points="149.77,836.35 156.72,843.3 149.77,850.25 142.82,843.3" fill="#ffd010" stroke="#000" stroke-width="3.5" stroke-linejoin="miter"/>
<polygon points="161.7,838.2 168.65,845.15 161.7,852.1 154.75,845.15" fill="#ffd010" stroke="#000" stroke-width="3.5" stroke-linejoin="miter"/>
<polygon points="173.62,840.05 180.57,847 173.62,853.95 166.67,847" fill="#ffd010" stroke="#000" stroke-width="3.5" stroke-linejoin="miter"/>
<polygon points="185.55,842.55 192.5,849.5 185.55,856.45 178.6,849.5" fill="#ffd010" stroke="#000" stroke-width="3.5" stroke-linejoin="miter"/>
<polygon points="197.47,845.05 204.42,852 197.47,858.95 190.52,852" fill="#ffd010" stroke="#000" stroke-width="3.5" stroke-linejoin="miter"/>
<polygon points="209.39,847.55 216.34,854.5 209.39,861.45 202.44,854.5" fill="#ffd010" stroke="#000" stroke-width="3.5" stroke-linejoin="miter"/>
<polygon points="221.32,850.05 228.27,857 221.32,863.95 214.37,857" fill="#ffd010" stroke="#000" stroke-width="3.5" stroke-linejoin="miter"/>
<polygon points="233.24,852.55 240.19,859.5 233.24,866.45 226.29,859.5" fill="#ffd010" stroke="#000" stroke-width="3.5" stroke-linejoin="miter"/>
<polygon points="245.17,854.92 252.12,861.88 245.17,868.83 238.22,861.88" fill="#ffd010" stroke="#000" stroke-width="3.5" stroke-linejoin="miter"/>
<polygon points="257.09,857.3 264.04,864.25 257.09,871.2 250.14,864.25" fill="#ffd010" stroke="#000" stroke-width="3.5" stroke-linejoin="miter"/>
<polygon points="269.02,859.67 275.97,866.62 269.02,873.58 262.07,866.62" fill="#ffd010" stroke="#000" stroke-width="3.5" stroke-linejoin="miter"/>
<polygon points="280.94,862.05 287.89,869 280.94,875.95 273.99,869" fill="#ffd010" stroke="#000" stroke-width="3.5" stroke-linejoin="miter"/>
<polygon points="292.86,859.55 299.81,866.5 292.86,873.45 285.91,866.5" fill="#ffd010" stroke="#000" stroke-width="3.5" stroke-linejoin="miter"/>
<polygon points="304.79,857.4 311.74,864.35 304.79,871.3 297.84,864.35" fill="#ffd010" stroke="#000" stroke-width="3.5" stroke-linejoin="miter"/>
<polygon points="316.71,855.25 323.66,862.2 316.71,869.15 309.76,862.2" fill="#ffd010" stroke="#000" stroke-width="3.5" stroke-linejoin="miter"/>
<polygon points="328.64,853.1 335.59,860.05 328.64,867 321.69,860.05" fill="#ffd010" stroke="#000" stroke-width="3.5" stroke-linejoin="miter"/>
<polygon points="340.56,850.95 347.51,857.9 340.56,864.85 333.61,857.9" fill="#ffd010" stroke="#000" stroke-width="3.5" stroke-linejoin="miter"/>
<polygon points="352.49,848.8 359.44,855.75 352.49,862.7 345.54,855.75" fill="#ffd010" stroke="#000" stroke-width="3.5" stroke-linejoin="miter"/>
<polygon points="364.41,847.45 371.36,854.4 364.41,861.35 357.46,854.4" fill="#ffd010" stroke="#000" stroke-width="3.5" stroke-linejoin="miter"/>
<polygon points="376.33,846.1 383.28,853.05 376.33,860 369.38,853.05" fill="#ffd010" stroke="#000" stroke-width="3.5" stroke-linejoin="miter"/>
<polygon points="388.26,844.75 395.21,851.7 388.26,858.65 381.31,851.7" fill="#ffd010" stroke="#000" stroke-width="3.5" stroke-linejoin="miter"/>
<polygon points="400.18,843.4 407.13,850.35 400.18,857.3 393.23,850.35" fill="#ffd010" stroke="#000" stroke-width="3.5" stroke-linejoin="miter"/>
<polygon points="412.11,842.05 419.06,849 412.11,855.95 405.16,849" fill="#ffd010" stroke="#000" stroke-width="3.5" stroke-linejoin="miter"/>
<polygon points="424.03,841.05 430.98,848 424.03,854.95 417.08,848" fill="#ffd010" stroke="#000" stroke-width="3.5" stroke-linejoin="miter"/>
<polygon points="435.96,840.05 442.91,847 435.96,853.95 429.01,847" fill="#ffd010" stroke="#000" stroke-width="3.5" stroke-linejoin="miter"/>
<polygon points="447.88,839.05 454.83,846 447.88,852.95 440.93,846" fill="#ffd010" stroke="#000" stroke-width="3.5" stroke-linejoin="miter"/>
<polygon points="459.8,838.05 466.75,845 459.8,851.95 452.85,845" fill="#ffd010" stroke="#000" stroke-width="3.5" stroke-linejoin="miter"/>
<polygon points="471.73,837.05 478.68,844 471.73,850.95 464.78,844" fill="#ffd010" stroke="#000" stroke-width="3.5" stroke-linejoin="miter"/>
<polygon points="483.65,836.25 490.6,843.2 483.65,850.15 476.7,843.2" fill="#ffd010" stroke="#000" stroke-width="3.5" stroke-linejoin="miter"/>
<polygon points="495.58,835.45 502.53,842.4 495.58,849.35 488.63,842.4" fill="#ffd010" stroke="#000" stroke-width="3.5" stroke-linejoin="miter"/>
<polygon points="507.5,834.65 514.45,841.6 507.5,848.55 500.55,841.6" fill="#ffd010" stroke="#000" stroke-width="3.5" stroke-linejoin="miter"/>
<polygon points="519.43,833.85 526.38,840.8 519.43,847.75 512.48,840.8" fill="#ffd010" stroke="#000" stroke-width="3.5" stroke-linejoin="miter"/>
<polygon points="531.35,833.05 538.3,840 531.35,846.95 524.4,840" fill="#ffd010" stroke="#000" stroke-width="3.5" stroke-linejoin="miter"/>
<polygon points="543.27,832.45 550.22,839.4 543.27,846.35 536.32,839.4" fill="#ffd010" stroke="#000" stroke-width="3.5" stroke-linejoin="miter"/>
<polygon points="555.2,831.85 562.15,838.8 555.2,845.75 548.25,838.8" fill="#ffd010" stroke="#000" stroke-width="3.5" stroke-linejoin="miter"/>
<polygon points="567.12,831.25 574.07,838.2 567.12,845.15 560.17,838.2" fill="#ffd010" stroke="#000" stroke-width="3.5" stroke-linejoin="miter"/>
<polygon points="579.05,830.65 586,837.6 579.05,844.55 572.1,837.6" fill="#ffd010" stroke="#000" stroke-width="3.5" stroke-linejoin="miter"/>
<polygon points="590.97,830.05 597.92,837 590.97,843.95 584.02,837" fill="#ffd010" stroke="#000" stroke-width="3.5" stroke-linejoin="miter"/>
<polygon points="602.9,829.65 609.85,836.6 602.9,843.55 595.95,836.6" fill="#ffd010" stroke="#000" stroke-width="3.5" stroke-linejoin="miter"/>
<polygon points="614.82,829.25 621.77,836.2 614.82,843.15 607.87,836.2" fill="#ffd010" stroke="#000" stroke-width="3.5" stroke-linejoin="miter"/>
<polygon points="626.74,828.85 633.69,835.8 626.74,842.75 619.79,835.8" fill="#ffd010" stroke="#000" stroke-width="3.5" stroke-linejoin="miter"/>
<polygon points="638.67,828.45 645.62,835.4 638.67,842.35 631.72,835.4" fill="#ffd010" stroke="#000" stroke-width="3.5" stroke-linejoin="miter"/>
<polygon points="650.59,828.05 657.54,835 650.59,841.95 643.64,835" fill="#ffd010" stroke="#000" stroke-width="3.5" stroke-linejoin="miter"/>
<polygon points="662.52,827.8 669.47,834.75 662.52,841.7 655.57,834.75" fill="#ffd010" stroke="#000" stroke-width="3.5" stroke-linejoin="miter"/>
<polygon points="674.44,827.55 681.39,834.5 674.44,841.45 667.49,834.5" fill="#ffd010" stroke="#000" stroke-width="3.5" stroke-linejoin="miter"/>
<polygon points="686.37,827.3 693.32,834.25 686.37,841.2 679.42,834.25" fill="#ffd010" stroke="#000" stroke-width="3.5" stroke-linejoin="miter"/>
<polygon points="698.29,827.05 705.24,834 698.29,840.95 691.34,834" fill="#ffd010" stroke="#000" stroke-width="3.5" stroke-linejoin="miter"/>
<polygon points="710.21,826.8 717.16,833.75 710.21,840.7 703.26,833.75" fill="#ffd010" stroke="#000" stroke-width="3.5" stroke-linejoin="miter"/>
<polygon points="722.14,826.55 729.09,833.5 722.14,840.45 715.19,833.5" fill="#ffd010" stroke="#000" stroke-width="3.5" stroke-linejoin="miter"/>
<line x1="551" y1="975" x2="613" y2="975" stroke="#5b9bd5" stroke-width="3.2" stroke-linecap="round"/>
<polygon points="581.5,968.2 588.5,981.8 574.5,981.8" fill="#4040ff" stroke="#000" stroke-width="3.6" stroke-linejoin="round"/>
<text x="619.5" y="985" font-size="28.3" text-anchor="start">Oil density_Experimental</text>
<polygon points="581.5,1048.05 588.45,1055 581.5,1061.95 574.55,1055" fill="#ffd010" stroke="#000" stroke-width="3.5" stroke-linejoin="miter"/>
<text x="619.5" y="1065" font-size="28.3" text-anchor="start">Oil density_Model</text>
</g>
<g id="chart-kr">
<rect x="1138.2" y="759.5" width="836.3" height="588" fill="#fff" stroke="#000" stroke-width="3" stroke-linejoin="round" rx="1.2"/>
<text x="1138.2" y="1390" font-size="29" text-anchor="middle">0</text>
<line x1="1305.46" y1="1347.5" x2="1305.46" y2="1339.8" stroke="#000" stroke-width="3"/>
<text x="1305.46" y="1390" font-size="29" text-anchor="middle">0.2</text>
<line x1="1472.72" y1="1347.5" x2="1472.72" y2="1339.8" stroke="#000" stroke-width="3"/>
<text x="1472.72" y="1390" font-size="29" text-anchor="middle">0.4</text>
<line x1="1639.98" y1="1347.5" x2="1639.98" y2="1339.8" stroke="#000" stroke-width="3"/>
<text x="1639.98" y="1390" font-size="29" text-anchor="middle">0.6</text>
<line x1="1807.24" y1="1347.5" x2="1807.24" y2="1339.8" stroke="#000" stroke-width="3"/>
<text x="1807.24" y="1390" font-size="29" text-anchor="middle">0.8</text>
<text x="1974.5" y="1390" font-size="29" text-anchor="middle">1</text>
<text x="1114.2" y="1356.7" font-size="29" text-anchor="end">0</text>
<line x1="1138.2" y1="1288.7" x2="1145.9" y2="1288.7" stroke="#000" stroke-width="3"/>
<text x="1114.2" y="1297.9" font-size="29" text-anchor="end">0.1</text>
<line x1="1138.2" y1="1229.9" x2="1145.9" y2="1229.9" stroke="#000" stroke-width="3"/>
<text x="1114.2" y="1239.1" font-size="29" text-anchor="end">0.2</text>
<line x1="1138.2" y1="1171.1" x2="1145.9" y2="1171.1" stroke="#000" stroke-width="3"/>
<text x="1114.2" y="1180.3" font-size="29" text-anchor="end">0.3</text>
<line x1="1138.2" y1="1112.3" x2="1145.9" y2="1112.3" stroke="#000" stroke-width="3"/>
<text x="1114.2" y="1121.5" font-size="29" text-anchor="end">0.4</text>
<line x1="1138.2" y1="1053.5" x2="1145.9" y2="1053.5" stroke="#000" stroke-width="3"/>
<text x="1114.2" y="1062.7" font-size="29" text-anchor="end">0.5</text>
<line x1="1138.2" y1="994.7" x2="1145.9" y2="994.7" stroke="#000" stroke-width="3"/>
<text x="1114.2" y="1003.9" font-size="29" text-anchor="end">0.6</text>
<line x1="1138.2" y1="935.9" x2="1145.9" y2="935.9" stroke="#000" stroke-width="3"/>
<text x="1114.2" y="945.1" font-size="29" text-anchor="end">0.7</text>
<line x1="1138.2" y1="877.1" x2="1145.9" y2="877.1" stroke="#000" stroke-width="3"/>
<text x="1114.2" y="886.3" font-size="29" text-anchor="end">0.8</text>
<line x1="1138.2" y1="818.3" x2="1145.9" y2="818.3" stroke="#000" stroke-width="3"/>
<text x="1114.2" y="827.5" font-size="29" text-anchor="end">0.9</text>
<text x="1114.2" y="768.7" font-size="29" text-anchor="end">1</text>
<text x="1556.35" y="1435" font-size="31.5" text-anchor="middle">Pressure (psi)</text>
<text x="1062.3" y="1052" font-size="31.8" text-anchor="middle" transform="rotate(-90 1062.3 1052)">Rs (SCF/STB)</text>
<path d="M1181.6,821.5 C1188.97,836.88 1210.64,881.29 1225.85,913.75 C1241.06,946.21 1260.97,990.71 1272.85,1016.25 C1284.72,1041.79 1284.72,1045.42 1297.1,1067 C1309.47,1088.58 1330.14,1121.08 1347.1,1145.75 C1364.06,1170.42 1384.18,1197.62 1398.85,1215 C1413.52,1232.38 1424.14,1239.67 1435.1,1250 C1446.06,1260.33 1455.43,1269.79 1464.6,1277 C1473.77,1284.21 1470.52,1285.2 1490.1,1293.25 C1509.68,1301.3 1554.18,1317.44 1582.1,1325.3 C1610.02,1333.16 1625.43,1337.53 1657.6,1340.4 C1689.77,1343.27 1755.52,1342.15 1775.1,1342.5" fill="none" stroke="#5b9bd5" stroke-width="4.0" stroke-linecap="round" stroke-linejoin="round"/>
<polygon points="1181.6,814.7 1188.6,828.3 1174.6,828.3" fill="#4040ff" stroke="#000" stroke-width="3.6" stroke-linejoin="round"/>
<polygon points="1225.85,906.95 1232.85,920.55 1218.85,920.55" fill="#4040ff" stroke="#000" stroke-width="3.6" stroke-linejoin="round"/>
<polygon points="1272.85,1009.45 1279.85,1023.05 1265.85,1023.05" fill="#4040ff" stroke="#000" stroke-width="3.6" stroke-linejoin="round"/>
<polygon points="1297.1,1060.2 1304.1,1073.8 1290.1,1073.8" fill="#4040ff" stroke="#000" stroke-width="3.6" stroke-linejoin="round"/>
<polygon points="1347.1,1138.95 1354.1,1152.55 1340.1,1152.55" fill="#4040ff" stroke="#000" stroke-width="3.6" stroke-linejoin="round"/>
<polygon points="1398.85,1208.2 1405.85,1221.8 1391.85,1221.8" fill="#4040ff" stroke="#000" stroke-width="3.6" stroke-linejoin="round"/>
<polygon points="1435.1,1243.2 1442.1,1256.8 1428.1,1256.8" fill="#4040ff" stroke="#000" stroke-width="3.6" stroke-linejoin="round"/>
<polygon points="1464.6,1270.2 1471.6,1283.8 1457.6,1283.8" fill="#4040ff" stroke="#000" stroke-width="3.6" stroke-linejoin="round"/>
<polygon points="1490.1,1286.45 1497.1,1300.05 1483.1,1300.05" fill="#4040ff" stroke="#000" stroke-width="3.6" stroke-linejoin="round"/>
<polygon points="1582.1,1318.5 1589.1,1332.1 1575.1,1332.1" fill="#4040ff" stroke="#000" stroke-width="3.6" stroke-linejoin="round"/>
<polygon points="1657.6,1333.6 1664.6,1347.2 1650.6,1347.2" fill="#4040ff" stroke="#000" stroke-width="3.6" stroke-linejoin="round"/>
<polygon points="1775.1,1335.7 1782.1,1349.3 1768.1,1349.3" fill="#4040ff" stroke="#000" stroke-width="3.6" stroke-linejoin="round"/>
<path d="M1181,1346.5 C1187.96,1346.29 1207.67,1345.46 1222.75,1345.25 C1237.83,1345.04 1259.21,1346.67 1271.5,1345.25 C1283.79,1343.83 1283.71,1339.88 1296.5,1336.75 C1309.29,1333.62 1331.58,1331 1348.25,1326.5 C1364.92,1322 1382.12,1315.88 1396.5,1309.75 C1410.88,1303.62 1419.08,1299.83 1434.5,1289.75 C1449.92,1279.67 1464.5,1270.08 1489,1249.25 C1513.5,1228.42 1553.5,1190.21 1581.5,1164.75 C1609.5,1139.29 1624.79,1126.5 1657,1096.5 C1689.21,1066.5 1755.12,1003.38 1774.75,984.75" fill="none" stroke="#ea0000" stroke-width="4.3" stroke-linecap="round" stroke-linejoin="round"/>
<polygon points="1181,1339.55 1187.95,1346.5 1181,1353.45 1174.05,1346.5" fill="#d60a0a" stroke="#000" stroke-width="3.5" stroke-linejoin="miter"/>
<polygon points="1222.75,1338.3 1229.7,1345.25 1222.75,1352.2 1215.8,1345.25" fill="#d60a0a" stroke="#000" stroke-width="3.5" stroke-linejoin="miter"/>
<polygon points="1271.5,1338.3 1278.45,1345.25 1271.5,1352.2 1264.55,1345.25" fill="#d60a0a" stroke="#000" stroke-width="3.5" stroke-linejoin="miter"/>
<polygon points="1296.5,1329.8 1303.45,1336.75 1296.5,1343.7 1289.55,1336.75" fill="#d60a0a" stroke="#000" stroke-width="3.5" stroke-linejoin="miter"/>
<polygon points="1348.25,1319.55 1355.2,1326.5 1348.25,1333.45 1341.3,1326.5" fill="#d60a0a" stroke="#000" stroke-width="3.5" stroke-linejoin="miter"/>
<polygon points="1396.5,1302.8 1403.45,1309.75 1396.5,1316.7 1389.55,1309.75" fill="#d60a0a" stroke="#000" stroke-width="3.5" stroke-linejoin="miter"/>
<polygon points="1434.5,1282.8 1441.45,1289.75 1434.5,1296.7 1427.55,1289.75" fill="#d60a0a" stroke="#000" stroke-width="3.5" stroke-linejoin="miter"/>
<polygon points="1489,1242.3 1495.95,1249.25 1489,1256.2 1482.05,1249.25" fill="#d60a0a" stroke="#000" stroke-width="3.5" stroke-linejoin="miter"/>
<polygon points="1581.5,1157.8 1588.45,1164.75 1581.5,1171.7 1574.55,1164.75" fill="#d60a0a" stroke="#000" stroke-width="3.5" stroke-linejoin="miter"/>
<polygon points="1657,1089.55 1663.95,1096.5 1657,1103.45 1650.05,1096.5" fill="#d60a0a" stroke="#000" stroke-width="3.5" stroke-linejoin="miter"/>
<polygon points="1774.75,977.8 1781.7,984.75 1774.75,991.7 1767.8,984.75" fill="#d60a0a" stroke="#000" stroke-width="3.5" stroke-linejoin="miter"/>
<polygon points="1181,811.55 1187.95,818.5 1181,825.45 1174.05,818.5" fill="#d60a0a" stroke="#000" stroke-width="3.5" stroke-linejoin="miter"/>
<polygon points="1230.25,934.55 1237.2,941.5 1230.25,948.45 1223.3,941.5" fill="#d60a0a" stroke="#000" stroke-width="3.5" stroke-linejoin="miter"/>
<polygon points="1279.75,1036.55 1286.7,1043.5 1279.75,1050.45 1272.8,1043.5" fill="#d60a0a" stroke="#000" stroke-width="3.5" stroke-linejoin="miter"/>
<polygon points="1329.75,1119.8 1336.7,1126.75 1329.75,1133.7 1322.8,1126.75" fill="#d60a0a" stroke="#000" stroke-width="3.5" stroke-linejoin="miter"/>
<polygon points="1379.75,1186.55 1386.7,1193.5 1379.75,1200.45 1372.8,1193.5" fill="#d60a0a" stroke="#000" stroke-width="3.5" stroke-linejoin="miter"/>
<polygon points="1431.5,1237.3 1438.45,1244.25 1431.5,1251.2 1424.55,1244.25" fill="#d60a0a" stroke="#000" stroke-width="3.5" stroke-linejoin="miter"/>
<polygon points="1481.5,1277.8 1488.45,1284.75 1481.5,1291.7 1474.55,1284.75" fill="#d60a0a" stroke="#000" stroke-width="3.5" stroke-linejoin="miter"/>
<polygon points="1531.5,1304.05 1538.45,1311 1531.5,1317.95 1524.55,1311" fill="#d60a0a" stroke="#000" stroke-width="3.5" stroke-linejoin="miter"/>
<polygon points="1581.5,1322.8 1588.45,1329.75 1581.5,1336.7 1574.55,1329.75" fill="#d60a0a" stroke="#000" stroke-width="3.5" stroke-linejoin="miter"/>
<polygon points="1631.5,1333.55 1638.45,1340.5 1631.5,1347.45 1624.55,1340.5" fill="#d60a0a" stroke="#000" stroke-width="3.5" stroke-linejoin="miter"/>
<polygon points="1681,1339.05 1687.95,1346 1681,1352.95 1674.05,1346" fill="#d60a0a" stroke="#000" stroke-width="3.5" stroke-linejoin="miter"/>
<polygon points="1730.75,1340.3 1737.7,1347.25 1730.75,1354.2 1723.8,1347.25" fill="#d60a0a" stroke="#000" stroke-width="3.5" stroke-linejoin="miter"/>
<circle cx="1180.25" cy="1346.75" r="7.25" fill="#16bcf6" stroke="#000" stroke-width="3.1"/>
<circle cx="1230.25" cy="1346" r="7.25" fill="#16bcf6" stroke="#000" stroke-width="3.1"/>
<circle cx="1279.75" cy="1338.5" r="7.25" fill="#16bcf6" stroke="#000" stroke-width="3.1"/>
<circle cx="1329.75" cy="1327.75" r="7.25" fill="#16bcf6" stroke="#000" stroke-width="3.1"/>
<circle cx="1379.75" cy="1311" r="7.25" fill="#16bcf6" stroke="#000" stroke-width="3.1"/>
<circle cx="1431.5" cy="1288" r="7.25" fill="#16bcf6" stroke="#000" stroke-width="3.1"/>
<circle cx="1481" cy="1261" r="7.25" fill="#16bcf6" stroke="#000" stroke-width="3.1"/>
<circle cx="1531.5" cy="1228" r="7.25" fill="#16bcf6" stroke="#000" stroke-width="3.1"/>
<circle cx="1581.5" cy="1188.5" r="7.25" fill="#16bcf6" stroke="#000" stroke-width="3.1"/>
<circle cx="1631.5" cy="1143.5" r="7.25" fill="#16bcf6" stroke="#000" stroke-width="3.1"/>
<circle cx="1681" cy="1092.25" r="7.25" fill="#16bcf6" stroke="#000" stroke-width="3.1"/>
<circle cx="1731" cy="1036" r="7.25" fill="#16bcf6" stroke="#000" stroke-width="3.1"/>
<line x1="1408.5" y1="823.25" x2="1467.5" y2="823.25" stroke="#5b9bd5" stroke-width="4.0" stroke-linecap="round"/>
<polygon points="1437.5,816.45 1444.5,830.05 1430.5,830.05" fill="#4040ff" stroke="#000" stroke-width="3.6" stroke-linejoin="round"/>
<text x="1475" y="832.2" font-size="28.3" text-anchor="start">Kro_Experimental</text>
<line x1="1408.5" y1="862.25" x2="1467.5" y2="862.25" stroke="#ea0000" stroke-width="4.3" stroke-linecap="round"/>
<polygon points="1437.5,855.3 1444.45,862.25 1437.5,869.2 1430.55,862.25" fill="#d60a0a" stroke="#000" stroke-width="3.5" stroke-linejoin="miter"/>
<text x="1475" y="871.2" font-size="28.3" text-anchor="start">Krg_Experimental</text>
<polygon points="1437.5,895.05 1444.45,902 1437.5,908.95 1430.55,902" fill="#d60a0a" stroke="#000" stroke-width="3.5" stroke-linejoin="miter"/>
<text x="1475" y="912" font-size="28.3" text-anchor="start">Kro_Model</text>
<circle cx="1437.5" cy="942.75" r="7.25" fill="#16bcf6" stroke="#000" stroke-width="3.1"/>
<text x="1475" y="951.7" font-size="28.3" text-anchor="start">Krg_Model</text>
</g>
</g>
</svg>
</div>
</body>
</html>
